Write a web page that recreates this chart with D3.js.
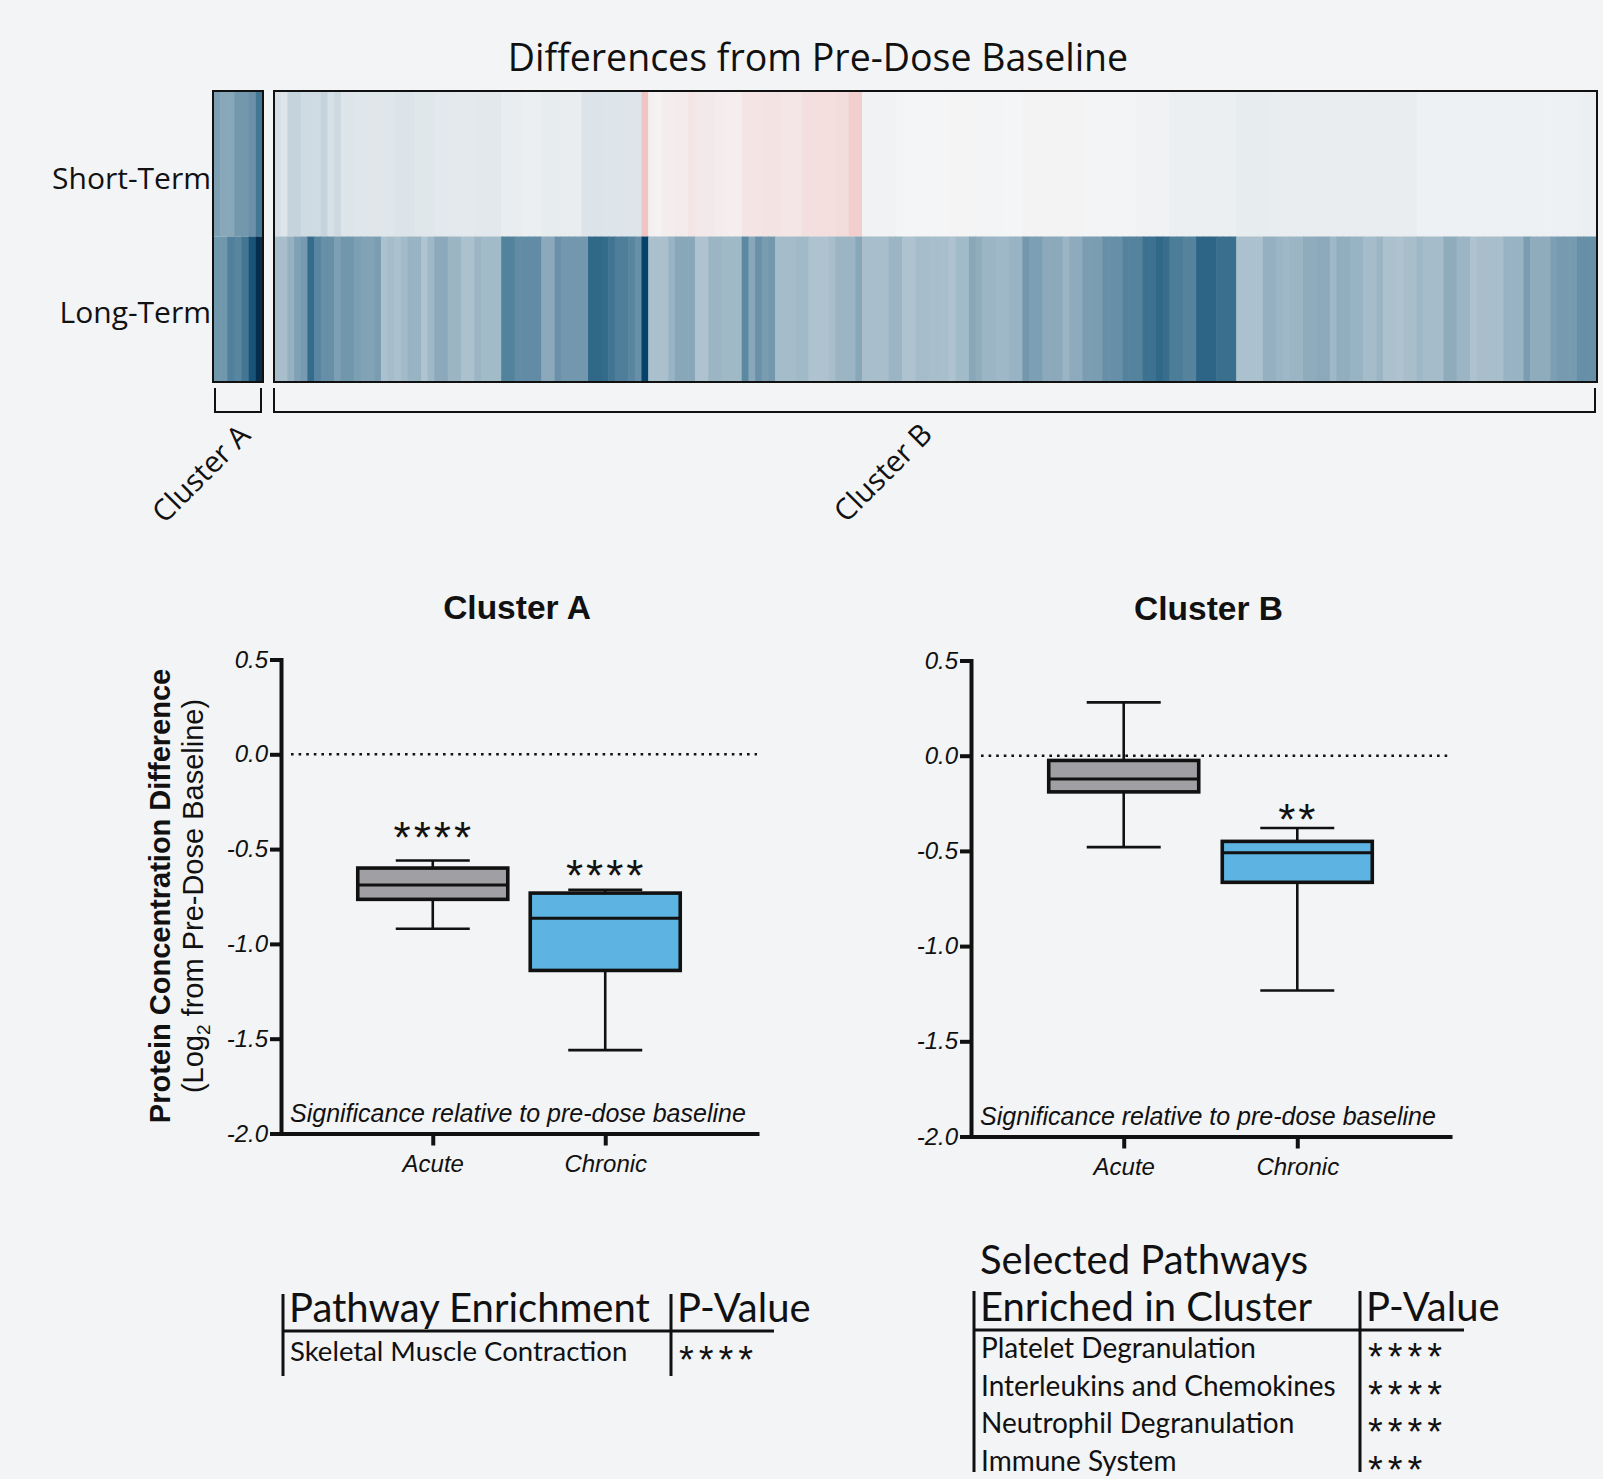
<!DOCTYPE html>
<html>
<head>
<meta charset="utf-8">
<script src="https://cdn.jsdelivr.net/npm/d3@7"></script>
<style>
  html, body { margin: 0; padding: 0; background: #f3f4f6; }
  svg { display: block; }
</style>
</head>
<body>
<svg id="chart" width="1603" height="1479"></svg>
<script>
// ---------------- data ----------------
const timepoints = ["Short-Term", "Long-Term"];

// log2 difference from pre-dose baseline, one value per protein (column)
const clusterAShort = [-0.8, -0.72, -0.72, -0.87, -0.87, -0.93, -1.2];
const clusterALong  = [-0.88, -0.88, -1.1, -1.05, -1.2, -1.5, -1.78];

const clusterBShort = [
  -0.17, -0.12, -0.27, -0.27, -0.2, -0.2, -0.2, -0.27, -0.16, -0.22,
  -0.12, -0.12, -0.11, -0.11, -0.11, -0.11, -0.11, -0.11, -0.13, -0.13,
  -0.13, -0.11, -0.11, -0.11, -0.1, -0.1, -0.1, -0.09, -0.09, -0.09,
  -0.1, -0.1, -0.1, -0.1, -0.06, -0.06, -0.06, -0.05, -0.05, -0.05,
  -0.07, -0.07, -0.07, -0.06, -0.06, -0.06, -0.13, -0.13, -0.13, -0.12,
  -0.12, -0.12, -0.12, -0.12, -0.12, 0.32, 0.03, 0.02, 0.05, 0.05,
  0.06, 0.06, 0.1, 0.07, 0.07, 0.07, 0.06, 0.05, 0.04, 0.04,
  0.1, 0.1, 0.1, 0.11, 0.11, 0.11, 0.09, 0.09, 0.09, 0.13,
  0.13, 0.13, 0.14, 0.14, 0.15, 0.15, 0.25, 0.25, -0.02, -0.02,
  -0.02, -0.02, -0.02, -0.01, 0, 0, 0, 0, 0, 0,
  0, 0.005, 0.005, 0.005, -0.01, -0.01, -0.01, -0.01, -0.01, 0,
  0, 0, 0.01, 0.01, 0.01, 0.01, 0.01, 0.01, 0.02, 0.01,
  0.01, -0.005, -0.005, -0.005, -0.005, -0.005, -0.005, -0.005, -0.005, -0.02,
  -0.02, -0.02, -0.02, -0.02, -0.05, -0.05, -0.05, -0.05, -0.05, -0.05,
  -0.05, -0.05, -0.05, -0.05, -0.07, -0.07, -0.07, -0.07, -0.07, -0.06,
  -0.06, -0.06, -0.06, -0.06, -0.06, -0.06, -0.06, -0.06, -0.06, -0.06,
  -0.06, -0.06, -0.06, -0.06, -0.06, -0.06, -0.06, -0.06, -0.06, -0.06,
  -0.06, -0.03, -0.03, -0.03, -0.03, -0.03, -0.03, -0.03, -0.03, -0.03,
  -0.03, -0.03, -0.03, -0.03, -0.03, -0.03, -0.03, -0.03, -0.03, -0.03,
  -0.03, -0.03, -0.03, -0.03, -0.03, -0.04, -0.05, -0.05
];

const clusterBLong = [
  -0.48, -0.48, -0.62, -0.78, -0.85, -1.3, -1.05, -0.95, -0.95, -0.8,
  -0.88, -0.88, -0.8, -0.76, -0.76, -0.82, -0.45, -0.5, -0.45, -0.52,
  -0.6, -0.6, -0.42, -0.55, -0.7, -0.7, -0.58, -0.58, -0.45, -0.45,
  -0.58, -0.52, -0.52, -0.52, -1.08, -1.08, -0.98, -0.98, -0.98, -0.98,
  -0.7, -0.7, -0.93, -0.87, -0.87, -0.87, -0.87, -1.35, -1.35, -1.32,
  -1.22, -1.12, -1.12, -1.05, -0.95, -1.6, -0.46, -0.46, -0.46, -0.6,
  -0.72, -0.72, -0.72, -0.43, -0.43, -0.58, -0.58, -0.54, -0.54, -0.54,
  -1.02, -0.72, -0.93, -0.83, -0.87, -0.5, -0.5, -0.5, -0.53, -0.53,
  -0.43, -0.43, -0.43, -0.48, -0.58, -0.58, -0.58, -0.72, -0.48, -0.48,
  -0.48, -0.48, -0.58, -0.58, -0.43, -0.43, -0.5, -0.5, -0.48, -0.48,
  -0.48, -0.43, -0.52, -0.52, -0.72, -0.66, -0.58, -0.58, -0.55, -0.55,
  -0.6, -0.6, -0.87, -0.8, -0.8, -0.7, -0.7, -0.7, -0.58, -0.68,
  -0.68, -0.82, -0.82, -0.82, -0.95, -0.95, -0.95, -1.07, -1.07, -1.07,
  -1.25, -1.25, -1.35, -1.28, -1.13, -1.13, -1.07, -1.07, -1.38, -1.38,
  -1.38, -1.27, -1.27, -1.27, -0.45, -0.45, -0.45, -0.45, -0.62, -0.62,
  -0.58, -0.55, -0.58, -0.58, -0.67, -0.67, -0.7, -0.7, -0.55, -0.65,
  -0.65, -0.6, -0.6, -0.5, -0.5, -0.58, -0.45, -0.45, -0.43, -0.48,
  -0.48, -0.55, -0.5, -0.5, -0.5, -0.67, -0.67, -0.58, -0.58, -0.43,
  -0.48, -0.48, -0.48, -0.48, -0.6, -0.6, -0.6, -0.82, -0.67, -0.67,
  -0.67, -0.8, -0.85, -0.85, -0.85, -0.95, -0.95, -0.95
];

const clusterNames = ["Cluster A", "Cluster B"];

// diverging colour ramp for the heatmap (log2 difference)
const colorStops = [-1.8, -1.6, -1.4, -1.2, -1.0, -0.8, -0.6, -0.4, -0.2, 0, 0.15, 0.35];
const colorRange = ["#072b46", "#07426a", "#2a6384", "#427692", "#5f8aa3", "#7d9fb3",
                    "#98b3c3", "#b2c6d1", "#cfdbe2", "#f4f5f6", "#f4dcdc", "#efc0c0"];

// box plot summaries: [lower whisker, Q1, median, Q3, upper whisker]
const boxGroups = ["Acute", "Chronic"];
const clusterAAcute   = [-0.92, -0.765, -0.69, -0.60, -0.56];
const clusterAChronic = [-1.56, -1.14, -0.865, -0.732, -0.715];
const clusterBAcute   = [-0.48, -0.19, -0.122, -0.025, 0.28];
const clusterBChronic = [-1.233, -0.665, -0.51, -0.45, -0.38];
const clusterASignif = ["****", "****"];
const clusterBSignif = ["", "**"];
const yTicks = [0.5, 0, -0.5, -1.0, -1.5, -2.0];

// pathway enrichment tables
const pathwaysA = ["Skeletal Muscle Contraction"];
const pathwaysASignif = ["****"];
const pathwaysB = ["Platelet Degranulation", "Interleukins and Chemokines",
                   "Neutrophil Degranulation", "Immune System"];
const pathwaysBSignif = ["****", "****", "****", "***"];

// ---------------- drawing ----------------
const WIDTH = 1603, HEIGHT = 1479;
const svg = d3.select("#chart");
const INK = "#111";
const HEAT_FONT = "'Open Sans', 'Noto Sans', sans-serif";
const PLOT_FONT = "'Liberation Sans', Arial, sans-serif";
const TABLE_FONT = "Lato, 'Open Sans', sans-serif";

svg.append("rect").attr("width", WIDTH).attr("height", HEIGHT).attr("fill", "#f3f4f6");

// ---- heatmap ----
svg.append("text")
  .attr("x", 818).attr("y", 71)
  .attr("text-anchor", "middle")
  .attr("font-family", HEAT_FONT).attr("font-size", 37.5)
  .attr("fill", INK)
  .text("Differences from Pre-Dose Baseline");

const rowY = d3.scaleBand().domain(timepoints).range([91, 382]);
const heatColor = d3.scaleLinear().domain(colorStops).range(colorRange).clamp(true);

function drawHeatBlock(rows, x0, x1) {
  const n = rows[0].length;
  const x = d3.scaleBand().domain(d3.range(n)).range([x0, x1]);
  const g = svg.append("g");
  timepoints.forEach((tp, r) => {
    g.selectAll(null).data(rows[r]).join("rect")
      .attr("x", (d, i) => x(i))
      .attr("y", rowY(tp))
      .attr("width", (d, i) => i === n - 1 ? x.bandwidth() : x.bandwidth() + 0.6)
      .attr("height", rowY.bandwidth())
      .attr("fill", d => heatColor(d));
  });
  g.append("rect")
    .attr("x", x0).attr("y", rowY.range()[0])
    .attr("width", x1 - x0).attr("height", rowY.range()[1] - rowY.range()[0])
    .attr("fill", "none").attr("stroke", INK).attr("stroke-width", 2);
}
drawHeatBlock([clusterAShort, clusterALong], 213, 263);
drawHeatBlock([clusterBShort, clusterBLong], 274, 1597);

const rowLabelShift = [15, 4];
svg.selectAll(".rowlab").data(timepoints).join("text")
  .attr("class", "rowlab")
  .attr("x", 211)
  .attr("y", (d, i) => rowY(d) + rowY.bandwidth() / 2 + 10 + rowLabelShift[i])
  .attr("text-anchor", "end")
  .attr("font-family", HEAT_FONT).attr("font-size", 30)
  .attr("fill", INK)
  .text(d => d);

// cluster brackets and rotated names
const brackets = [
  { x0: 215, x1: 261, lx: 252, ly: 437 },
  { x0: 274, x1: 1595, lx: 934, ly: 436 }
];
brackets.forEach((b, i) => {
  svg.append("path")
    .attr("d", `M${b.x0},388V412H${b.x1}V388`)
    .attr("fill", "none").attr("stroke", INK).attr("stroke-width", 2);
  svg.append("text")
    .attr("transform", `translate(${b.lx},${b.ly}) rotate(-45)`)
    .attr("text-anchor", "end")
    .attr("font-family", HEAT_FONT).attr("font-size", 29.5)
    .attr("fill", INK)
    .text(clusterNames[i]);
});

// ---- box plots ----
function drawBoxPlot(cfg) {
  const g = svg.append("g");
  const y = d3.scaleLinear().domain([-2, 0.5]).range([cfg.bottom, cfg.top]);
  const x = d3.scalePoint().domain(boxGroups).range([cfg.left, cfg.right]).padding(0.88);
  const boxW = 150, capW = 74;

  g.append("text")
    .attr("x", (cfg.left + cfg.right) / 2 - 2).attr("y", cfg.top - 41)
    .attr("text-anchor", "middle")
    .attr("font-family", PLOT_FONT).attr("font-weight", "bold").attr("font-size", 33.5)
    .attr("fill", INK)
    .text(cfg.title);

  // reference line at zero
  g.append("line")
    .attr("x1", cfg.left + 10).attr("x2", cfg.right)
    .attr("y1", y(0)).attr("y2", y(0))
    .attr("stroke", INK).attr("stroke-width", 2.6)
    .attr("stroke-dasharray", "2.6,5");

  cfg.stats.forEach((s, i) => {
    const cx = x(boxGroups[i]);
    const [lo, q1, med, q3, hi] = s;
    const bg = g.append("g");
    bg.append("line").attr("x1", cx).attr("x2", cx).attr("y1", y(hi)).attr("y2", y(q3))
      .attr("stroke", INK).attr("stroke-width", 2.6);
    bg.append("line").attr("x1", cx).attr("x2", cx).attr("y1", y(q1)).attr("y2", y(lo))
      .attr("stroke", INK).attr("stroke-width", 2.6);
    [hi, lo].forEach(v => {
      bg.append("line").attr("x1", cx - capW / 2).attr("x2", cx + capW / 2)
        .attr("y1", y(v)).attr("y2", y(v))
        .attr("stroke", INK).attr("stroke-width", 2.6);
    });
    bg.append("rect")
      .attr("x", cx - boxW / 2).attr("y", y(q3))
      .attr("width", boxW).attr("height", y(q1) - y(q3))
      .attr("fill", cfg.fills[i]).attr("stroke", INK).attr("stroke-width", 3.6);
    bg.append("line").attr("x1", cx - boxW / 2).attr("x2", cx + boxW / 2)
      .attr("y1", y(med)).attr("y2", y(med))
      .attr("stroke", INK).attr("stroke-width", 3);
    if (cfg.signif[i]) {
      // asterisks sit just above the upper whisker
      bg.append("text")
        .attr("x", cx + 1).attr("y", y(hi) + 1 - cfg.starLift[i])
        .attr("text-anchor", "middle")
        .attr("font-family", PLOT_FONT).attr("font-size", 44)
        .attr("letter-spacing", 3)
        .attr("fill", INK)
        .text(cfg.signif[i]);
    }
  });

  // axes
  const yAxis = g.append("g")
    .attr("transform", `translate(${cfg.left},0)`)
    .call(d3.axisLeft(y).tickValues(yTicks).tickFormat(d => d.toFixed(1))
      .tickSize(11).tickSizeOuter(0).tickPadding(2));
  const xAxis = g.append("g")
    .attr("transform", `translate(0,${cfg.bottom})`)
    .call(d3.axisBottom(x).tickSize(12).tickSizeOuter(0).tickPadding(9));
  [yAxis, xAxis].forEach(ax => {
    ax.select(".domain").attr("stroke", INK).attr("stroke-width", 4).attr("stroke-linecap", "square");
    ax.selectAll(".tick line").attr("stroke", INK).attr("stroke-width", 4);
    ax.selectAll(".tick text")
      .attr("font-family", PLOT_FONT).attr("font-style", "italic").attr("font-size", 24)
      .attr("fill", INK);
  });

  g.append("text")
    .attr("x", cfg.left + 9).attr("y", cfg.bottom - 12)
    .attr("font-family", PLOT_FONT).attr("font-style", "italic").attr("font-size", 25)
    .attr("fill", INK)
    .text("Significance relative to pre-dose baseline");
  return y;
}

drawBoxPlot({
  title: "Cluster A", left: 281, right: 757, top: 659.5, bottom: 1133.5,
  stats: [clusterAAcute, clusterAChronic], signif: clusterASignif, starLift: [8, 0],
  fills: ["#a09fa4", "#5db4e2"]
});
drawBoxPlot({
  title: "Cluster B", left: 971, right: 1450, top: 660.5, bottom: 1136.5,
  stats: [clusterBAcute, clusterBChronic], signif: clusterBSignif, starLift: [0, -6],
  fills: ["#a09fa4", "#5db4e2"]
});

// shared y-axis title
const yTitle = svg.append("g").attr("font-family", PLOT_FONT).attr("fill", INK);
yTitle.append("text")
  .attr("transform", "translate(170,896) rotate(-90)")
  .attr("text-anchor", "middle").attr("font-weight", "bold").attr("font-size", 29)
  .text("Protein Concentration Difference");
const sub = yTitle.append("text")
  .attr("transform", "translate(203,896) rotate(-90)")
  .attr("text-anchor", "middle").attr("font-size", 29);
sub.append("tspan").text("(Log");
sub.append("tspan").attr("font-size", 19).attr("dy", 7).text("2");
sub.append("tspan").attr("dy", -7).text(" from Pre-Dose Baseline)");

// ---- pathway tables ----
function drawTable(cfg) {
  const g = svg.append("g").attr("font-family", TABLE_FONT).attr("fill", INK);
  if (cfg.caption) {
    g.append("text").attr("x", cfg.textX).attr("y", cfg.captionY)
      .attr("font-size", cfg.headSize).text(cfg.caption);
  }
  g.append("text").attr("x", cfg.textX).attr("y", cfg.headY)
    .attr("font-size", cfg.headSize).text(cfg.header);
  g.append("text").attr("x", cfg.divX + 6).attr("y", cfg.headY)
    .attr("font-size", cfg.headSize).text("P-Value");
  const rows = d3.range(cfg.items.length);
  const rowY = d3.scalePoint().domain(rows)
    .range([cfg.firstRowY, cfg.firstRowY + cfg.rowStep * (rows.length - 1)]);
  g.selectAll(".item").data(cfg.items).join("text")
    .attr("x", cfg.textX + 1).attr("y", (d, i) => rowY(i))
    .attr("font-size", cfg.rowSize).text(d => d);
  // the asterisk glyph sits high in its line, so its baseline drops below the row text
  g.selectAll(".stars").data(cfg.signif).join("text")
    .attr("x", cfg.divX + 8)
    .attr("y", (d, i) => rowY(i) + 12)
    .attr("font-family", PLOT_FONT).attr("font-size", 38).attr("letter-spacing", 5)
    .text(d => d);
  const lines = g.append("g").attr("stroke", INK).attr("stroke-width", 3);
  lines.append("line").attr("x1", cfg.lineX0).attr("x2", cfg.lineX1)
    .attr("y1", cfg.ruleY).attr("y2", cfg.ruleY);
  [cfg.lineX0, cfg.divX].forEach(vx => {
    lines.append("line").attr("x1", vx).attr("x2", vx).attr("y1", cfg.vTop).attr("y2", cfg.vBottom);
  });
}

drawTable({
  header: "Pathway Enrichment", items: pathwaysA, signif: pathwaysASignif,
  textX: 289, lineX0: 283, lineX1: 774, divX: 671,
  headY: 1322, ruleY: 1331, vTop: 1294, vBottom: 1376,
  firstRowY: 1361, rowStep: 38, headSize: 40, rowSize: 27.5
});
drawTable({
  caption: "Selected Pathways", captionY: 1274,
  header: "Enriched in Cluster", items: pathwaysB, signif: pathwaysBSignif,
  textX: 980, lineX0: 974, lineX1: 1464, divX: 1360,
  headY: 1321, ruleY: 1330, vTop: 1291, vBottom: 1472,
  firstRowY: 1358, rowStep: 37.7, headSize: 40, rowSize: 28
});
</script>
</body>
</html>
